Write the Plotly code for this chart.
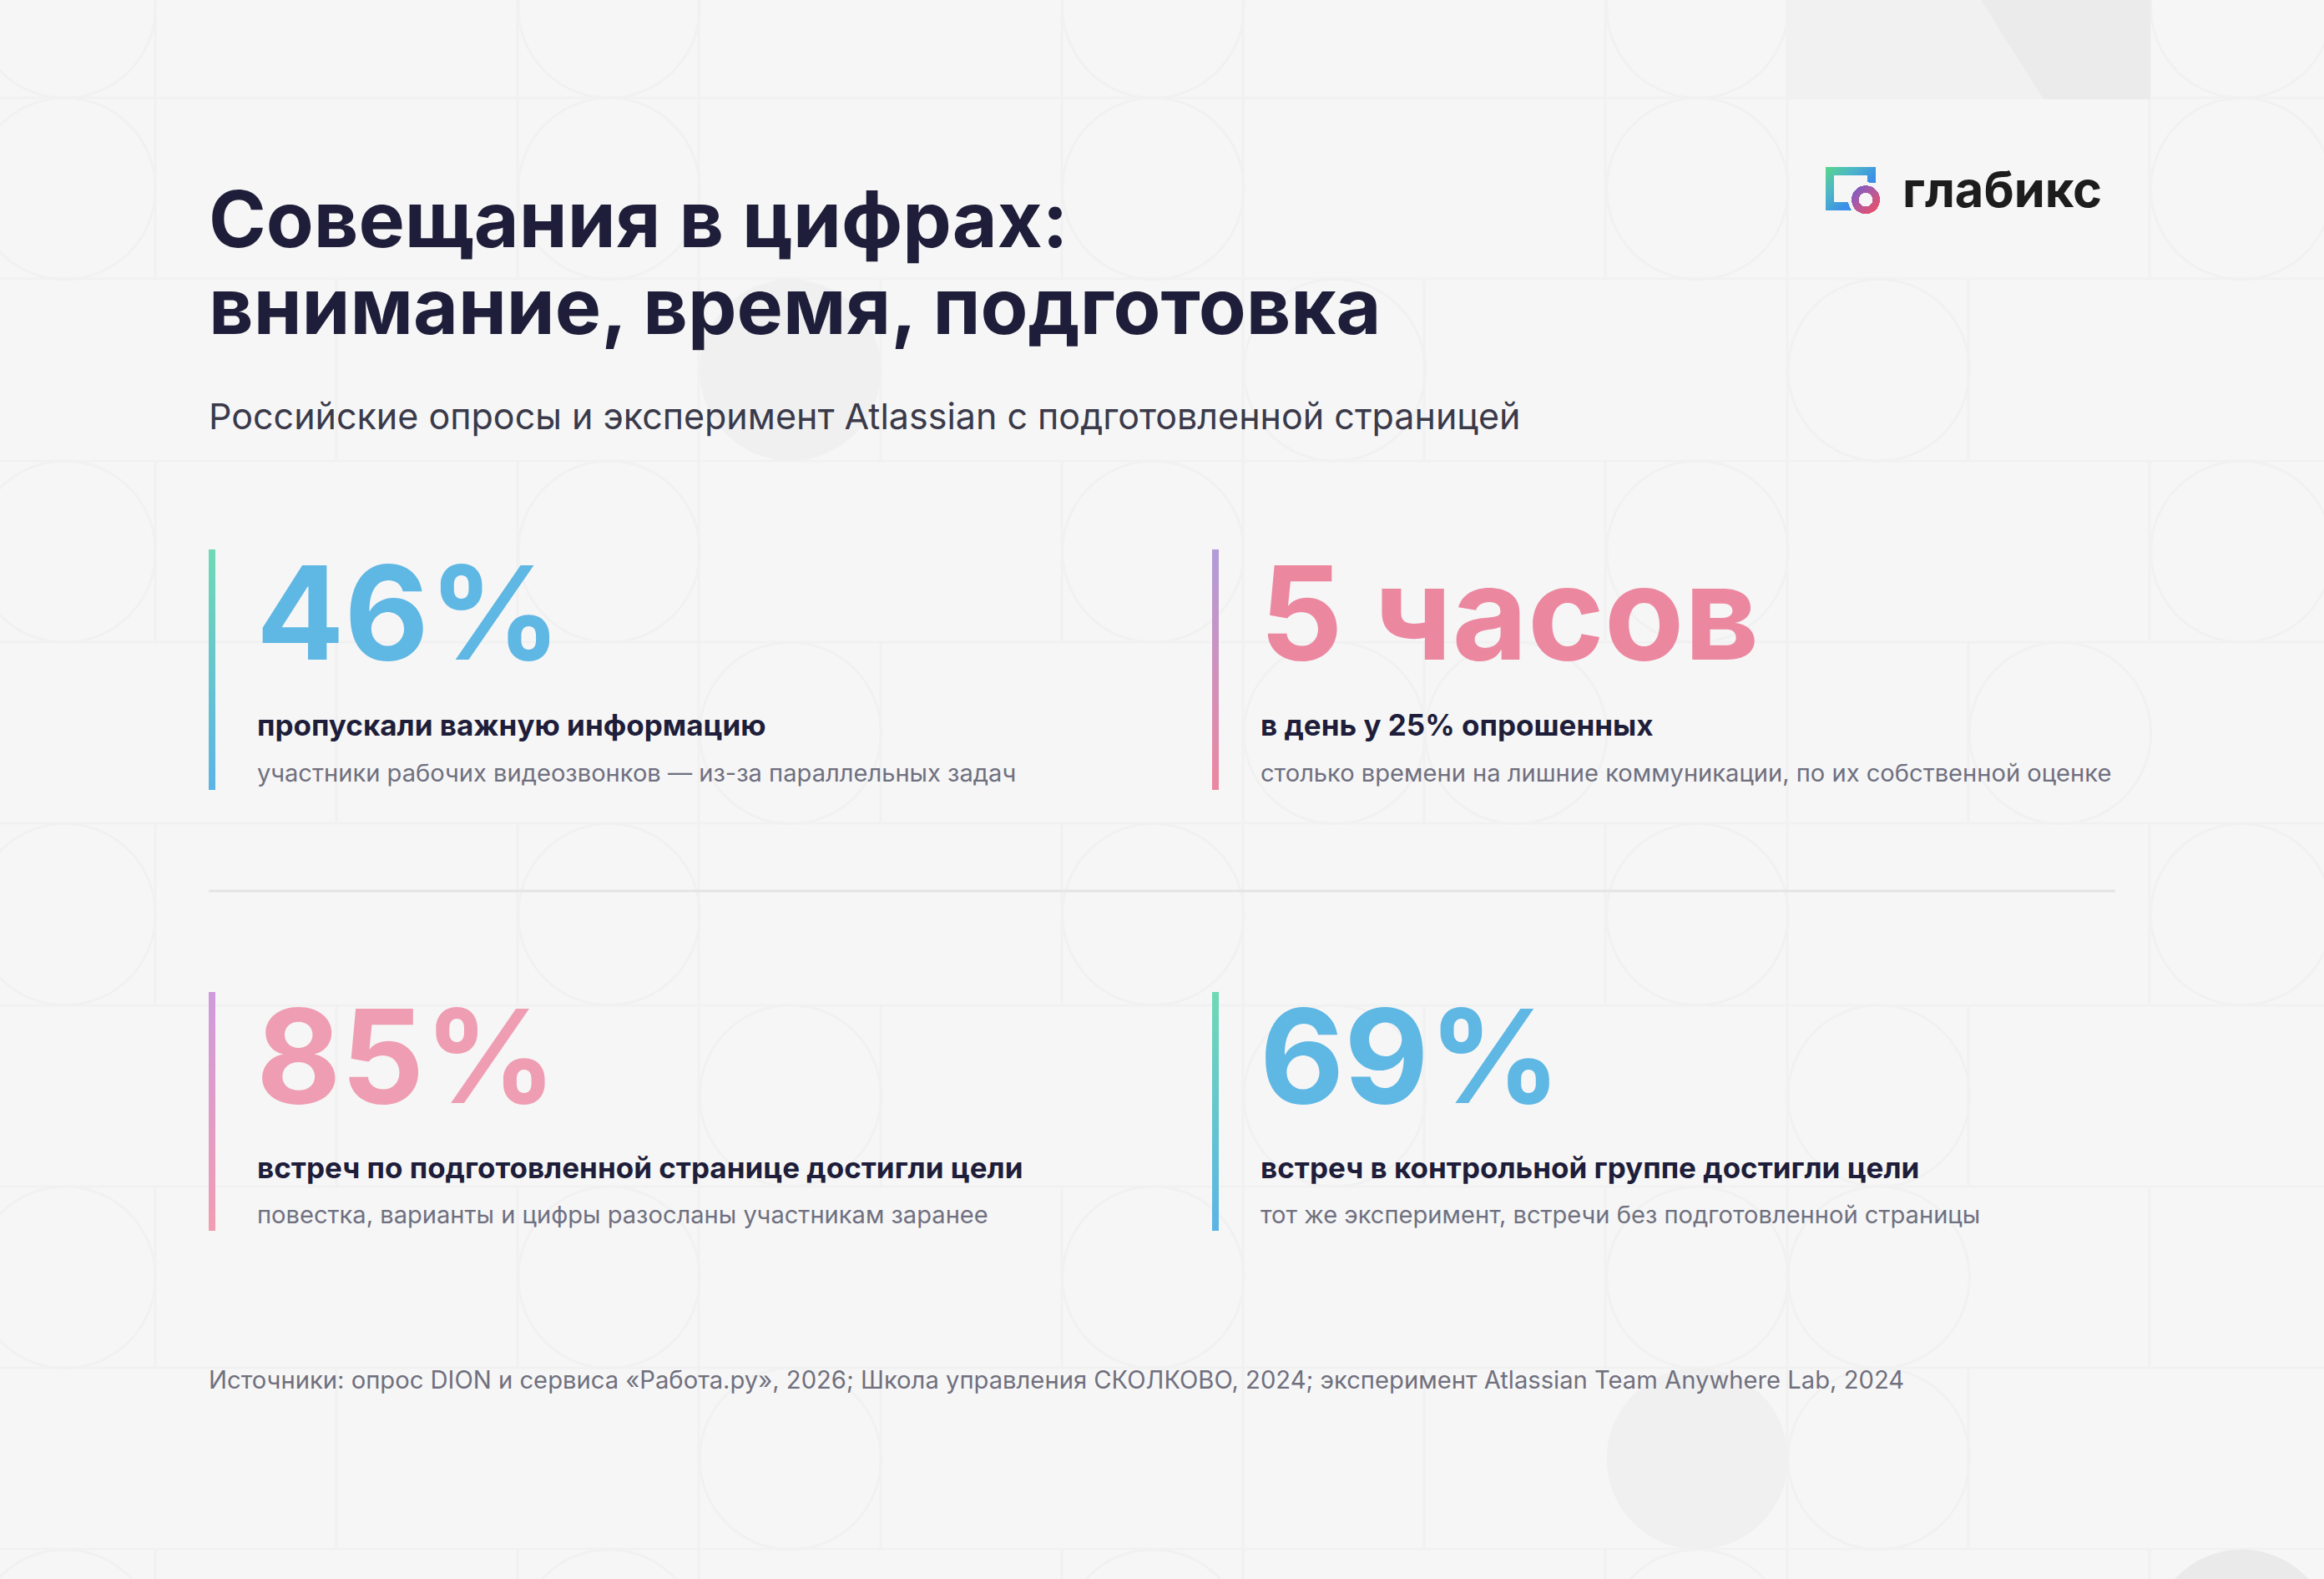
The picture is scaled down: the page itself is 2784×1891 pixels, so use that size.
import numpy as np
import plotly.graph_objects as go

WIDTH = 2784
HEIGHT = 1891
FONT = "Inter"

TITLE_LINES = ["Совещания в цифрах:", "внимание, время, подготовка"]
SUBTITLE = "Российские опросы и эксперимент Atlassian с подготовленной страницей"
SOURCE = (
    "Источники: опрос DION и сервиса «Работа.ру», 2026; Школа управления СКОЛКОВО, 2024; "
    "эксперимент Atlassian Team Anywhere Lab, 2024"
)
BRAND = "глабикс"

KPI_VALUES = ["46%", "5 часов", "85%", "69%"]
KPI_HEADINGS = [
    "пропускали важную информацию",
    "в день у 25% опрошенных",
    "встреч по подготовленной странице достигли цели",
    "встреч в контрольной группе достигли цели",
]
KPI_NOTES = [
    "участники рабочих видеозвонков — из-за параллельных задач",
    "столько времени на лишние коммуникации, по их собственной оценке",
    "повестка, варианты и цифры разосланы участникам заранее",
    "тот же эксперимент, встречи без подготовленной страницы",
]
KPI_COLORS = ["#5fb7e4", "#ec87a0", "#ef9db2", "#5fb7e4"]
BAR_TOP = ["#6fd9b5", "#b19cd9", "#cf9bdc", "#6fd9b5"]
BAR_BOTTOM = ["#5cb4e6", "#ec87a0", "#f29db2", "#5cb4e6"]

# background tile pattern, (column, row) of a 217 px grid
CIRCLE_CELLS = [
    (0, 0), (0, 1), (0, 3), (0, 5), (0, 7), (0, 9),
    (3, 0), (3, 1), (3, 3), (3, 5), (3, 7), (3, 9),
    (4, 4), (4, 6), (4, 8),
    (6, 0), (6, 1), (6, 3), (6, 5), (6, 7), (6, 9),
    (7, 2), (7, 4), (7, 6),
    (8, 4),
    (9, 0), (9, 1), (9, 3), (9, 5), (9, 7), (9, 9),
    (10, 2), (10, 6), (10, 7), (10, 8),
    (11, 4),
    (12, 0), (12, 1), (12, 3), (12, 5),
]
FILLED_CELLS = [(4, 2, "#f0f0f0"), (9, 8, "#f0f0f0"), (12, 9, "#eaeaea")]
ODD_ROWS = [0, 1, 3, 5, 7, 9]
ODD_ROW_LINES = [186, 620, 837, 1272, 1489, 1923, 2141, 2575]
EVEN_ROWS = [2, 4, 6, 8]
EVEN_ROW_LINES = [403, 837, 1055, 1489, 1706, 2141, 2358]
ROW_LINES = [117, 334, 552, 769, 986, 1204, 1421, 1638, 1855]

GRID_LINE = "#f1f1f1"
CELL = 217.3


def cell_box(col, row):
    return -31 + CELL * col, -100 + CELL * row, -31 + CELL * (col + 1), -100 + CELL * (row + 1)


def add_background(fig):
    for y in ROW_LINES:
        fig.add_shape(type="line", x0=0, x1=WIDTH, y0=y, y1=y,
                      line=dict(color=GRID_LINE, width=3), layer="below")
    for rows, lines in [(ODD_ROWS, ODD_ROW_LINES), (EVEN_ROWS, EVEN_ROW_LINES)]:
        for row in rows:
            y0, y1 = cell_box(0, row)[1], cell_box(0, row)[3]
            for x in lines:
                fig.add_shape(type="line", x0=x, x1=x, y0=y0, y1=y1,
                              line=dict(color=GRID_LINE, width=3), layer="below")
    for col, row in CIRCLE_CELLS:
        x0, y0, x1, y1 = cell_box(col, row)
        fig.add_shape(type="circle", x0=x0, y0=y0, x1=x1, y1=y1,
                      line=dict(color=GRID_LINE, width=3), layer="below")
    for col, row, color in FILLED_CELLS:
        x0, y0, x1, y1 = cell_box(col, row)
        fig.add_shape(type="circle", x0=x0, y0=y0, x1=x1, y1=y1,
                      fillcolor=color, line_width=0, layer="below")
    # corner block above the logo
    fig.add_shape(type="rect", x0=2139, x1=2576, y0=0, y1=119,
                  fillcolor="#f1f1f1", line_width=0, layer="below")
    fig.add_shape(type="path", path="M 2373 0 L 2448 119 L 2576 119 L 2576 0 Z",
                  fillcolor="#ebebeb", line_width=0, layer="below")


def add_bar(fig, x0, y0, y1, top, bottom):
    fig.add_trace(go.Scatter(
        x=[x0, x0 + 8, x0 + 8, x0, x0],
        y=[y0, y0, y1, y1, y0],
        mode="lines",
        line_width=0,
        fill="toself",
        fillgradient=dict(type="vertical", colorscale=[[0, bottom], [1, top]]),
        hoverinfo="skip",
    ))


def add_text(fig, x, baseline, text, size, color, weight=400):
    # annotations anchor on the line box, so shift from the baseline
    fig.add_annotation(
        x=x, y=baseline + 0.24 * size, text=text, xref="x", yref="y",
        xanchor="left", yanchor="bottom", showarrow=False, borderpad=0, borderwidth=0,
        font=dict(family=FONT, size=size, color=color, weight=weight),
    )


def add_logo(fig):
    xs = np.arange(2185, 2254)
    ys = np.arange(198, 258)
    xx, yy = np.meshgrid(xs, ys)
    dist = np.hypot(xx - 2234.5, yy - 238.7)
    diag = (xx - 2187) + (yy - 200)

    outer = (xx >= 2187) & (xx < 2247) & (yy >= 200) & (yy < 252)
    hole = (xx >= 2197) & (xx < 2237) & (yy >= 210) & (yy < 242)
    cut = (xx >= 2237) & (yy >= 219)
    frame = outer & ~hole & ~cut & (dist > 21)
    ring = (dist <= 17) & (dist >= 8.3)

    fig.add_trace(go.Heatmap(
        x=xs, y=ys, z=np.where(frame, diag, np.nan), zmin=0, zmax=70,
        colorscale=[[0, "#58d68a"], [0.5, "#4db5c8"], [1, "#3b8fe8"]],
        showscale=False, hoverinfo="skip",
    ))
    fig.add_trace(go.Heatmap(
        x=xs, y=ys, z=np.where(ring, diag, np.nan), zmin=58, zmax=112,
        colorscale=[[0, "#7a5cc8"], [0.5, "#b45a9c"], [1, "#e8506a"]],
        showscale=False, hoverinfo="skip",
    ))


fig = go.Figure()
add_background(fig)

for i, value in enumerate(KPI_VALUES):
    col_x = 250 if i % 2 == 0 else 1452
    top = 658 if i < 2 else 1188
    bar_h = 288 if i < 2 else 286
    add_bar(fig, col_x, top, top + bar_h, BAR_TOP[i], BAR_BOTTOM[i])
    base = 791 if i < 2 else 1322
    head_gap = 90 if i < 2 else 89
    note_gap = 145 if i < 2 else 143
    add_text(fig, col_x + 57, base, value, 156, KPI_COLORS[i], 700)
    add_text(fig, col_x + 58, base + head_gap, KPI_HEADINGS[i], 35, "#1e1e3a", 700)
    add_text(fig, col_x + 58, base + note_gap, KPI_NOTES[i], 29.1, "#6f7080")

add_text(fig, 250, 296, TITLE_LINES[0], 93, "#1e1e3a", 700)
add_text(fig, 250, 400, TITLE_LINES[1], 93, "#1e1e3a", 700)
add_text(fig, 250, 514, SUBTITLE, 43, "#3a3a4a")
add_text(fig, 250, 1663, SOURCE, 29.2, "#70707e")
add_text(fig, 2279, 248, BRAND, 59.5, "#1d1d1d", 700)

fig.add_shape(type="line", x0=250, x1=2534, y0=1067, y1=1067,
              line=dict(color="#e4e4e4", width=3), layer="below")
add_logo(fig)

fig.update_xaxes(range=[0, WIDTH], visible=False, fixedrange=True)
fig.update_yaxes(range=[HEIGHT, 0], visible=False, fixedrange=True)
fig.update_layout(
    width=WIDTH,
    height=HEIGHT,
    margin=dict(l=0, r=0, t=0, b=0),
    paper_bgcolor="#f6f6f6",
    plot_bgcolor="#f6f6f6",
    showlegend=False,
)
fig.write_html(
    "out.html",
    config={"displayModeBar": False},
    post_script="document.body.style.margin='0';document.body.style.overflow='hidden';",
)
